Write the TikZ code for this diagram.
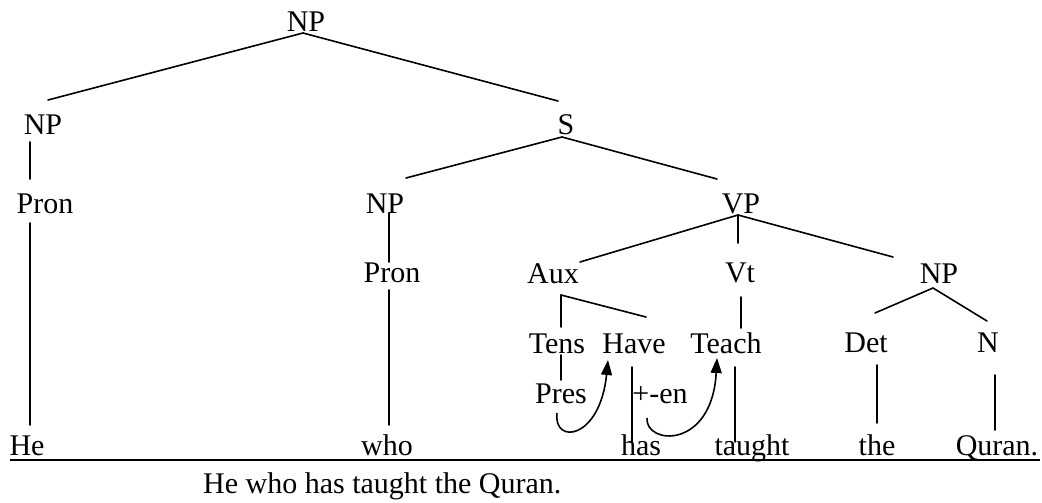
\documentclass[tikz,border=0pt]{standalone}
\usepackage{fontspec}
\setmainfont{Liberation Serif}
\usepackage{tikz}
\usetikzlibrary{arrows.meta,calc}
\tikzset{
  lab/.style={inner sep=0pt, anchor=base, font=\fontsize{30}{34}\selectfont},
  br/.style={line width=1.6pt, line cap=round},
  mv/.style={-{Triangle[length=15pt,width=11pt]}, line width=1.6pt},
}

\begin{document}
\begin{tikzpicture}[x=1pt, y=-1pt]
    \useasboundingbox (0,0) rectangle (1042,503);
    % nodes
    \node[lab] (np0) at (306,32) {NP};
    \node[lab] (np1) at (43,134) {NP};
    \node[lab] (s) at (566,135) {S};
    \node[lab] (pron1) at (45,213) {Pron};
    \node[lab] (np2) at (385,213) {NP};
    \node[lab] (vp) at (741,213) {VP};
    \node[lab] (pron2) at (392,282) {Pron};
    \node[lab] (aux) at (553,283) {Aux};
    \node[lab] (vt) at (740,282) {Vt};
    \node[lab] (np3) at (939,283) {NP};
    \node[lab] (tens) at (557,353) {Tens};
    \node[lab] (have) at (634,353) {Have};
    \node[lab] (teach) at (726,353) {Teach};
    \node[lab] (det) at (866,352) {Det};
    \node[lab] (n) at (988,352) {N};
    \node[lab] (pres) at (561,403) {Pres};
    \node[lab] (en) at (660,403) {+-en};
    \node[lab] (he) at (27,455) {He};
    \node[lab] (who) at (387,455) {who};
    \node[lab] (has) at (641,455) {has};
    \node[lab] (taught) at (752,455) {taught};
    \node[lab] (the) at (877,455) {the};
    \node[lab] (quran) at (997,455) {Quran.};
    \node[lab, anchor=base west] (sent) at (203,493) {He who has taught the Quran.};
    % branches
    \draw[br] ($(np0.base)+(-3,1)$) -- ($(np1.base)+(5,-34)$);
    \draw[br] ($(np0.base)+(-3,1)$) -- ($(s.base)+(-8,-34)$);
    \draw[br] ($(np1.base)+(-13,8)$) -- ($(pron1.base)+(-15,-34)$);
    \draw[br] ($(pron1.base)+(-15,10)$) -- ($(he.base)+(3,-30)$);
    \draw[br] ($(s.base)+(-4,2)$) -- ($(np2.base)+(21,-35)$);
    \draw[br] ($(s.base)+(-4,2)$) -- ($(vp.base)+(-24,-34)$);
    \draw[br] ($(np2.base)+(4,0)$) -- ($(pron2.base)+(-3,-20)$);
    \draw[br] ($(pron2.base)+(-3,8)$) -- ($(who.base)+(2,-30)$);
    \draw[br] ($(vp.base)+(-3,2)$) -- ($(aux.base)+(27,-21)$);
    \draw[br] ($(vp.base)+(-3,2)$) -- ($(vt.base)+(-2,-39)$);
    \draw[br] ($(vp.base)+(-3,2)$) -- ($(np3.base)+(-46,-26)$);
    \draw[br] ($(aux.base)+(8,12)$) -- ($(tens.base)+(4,-26)$);
    \draw[br] ($(aux.base)+(8,12)$) -- ($(have.base)+(12,-36)$);
    \draw[br] ($(vt.base)+(1,15)$) -- ($(teach.base)+(15,-25)$);
    \draw[br] ($(np3.base)+(-6,5)$) -- ($(det.base)+(9,-39)$);
    \draw[br] ($(np3.base)+(-6,5)$) -- ($(n.base)+(-1,-31)$);
    \draw[br] ($(tens.base)+(4,2)$) -- ($(pres.base)+(0,-23)$);
    \draw[br] ($(have.base)+(-2,14)$) -- ($(has.base)+(-9,-13)$);
    \draw[br] ($(teach.base)+(9,14)$) -- ($(taught.base)+(-17,-13)$);
    \draw[br] ($(det.base)+(11,13)$) -- ($(the.base)+(0,-32)$);
    \draw[br] ($(n.base)+(7,23)$) -- ($(quran.base)+(-2,-25)$);
    % underline
    \draw[line width=2.4pt] ($(he.base)+(-17,5)$) -- ($(quran.base)+(43,5)$);
    % movement arrows
    \draw[mv] ($(pres.base)+(-4,10)$) .. controls (553,445) and (600,440) .. ($(have.base)+(-26,7)$);
    \draw[mv] ($(en.base)+(-13,15)$) .. controls (645,445) and (712,450) .. ($(teach.base)+(-9,5)$);
\end{tikzpicture}
\end{document}
